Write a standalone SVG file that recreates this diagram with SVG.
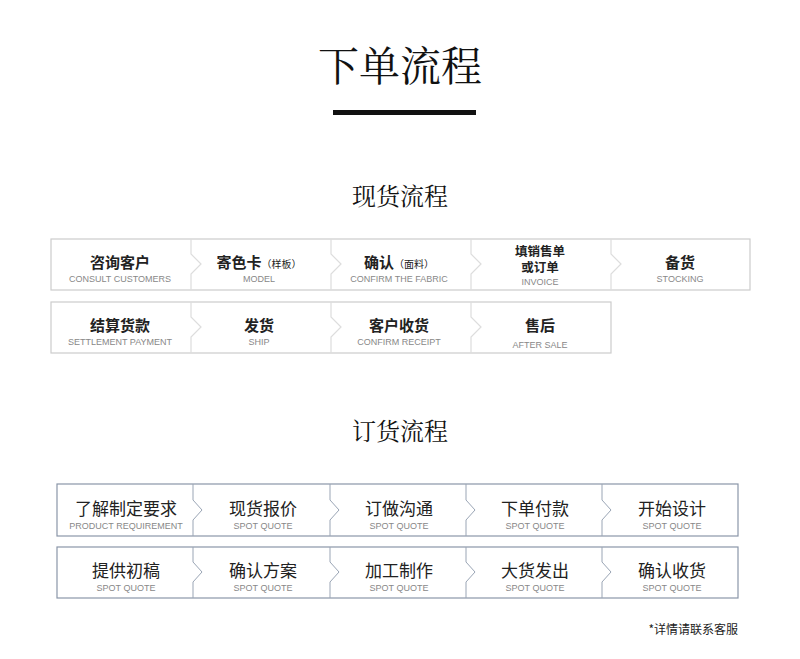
<svg xmlns="http://www.w3.org/2000/svg" width="800" height="659" viewBox="0 0 800 659">
<style>
.t{font-family:"Noto Sans CJK SC","Noto Sans",sans-serif;fill:#222;text-anchor:middle}
.h{font-family:"Noto Serif CJK SC","Noto Sans CJK SC",serif;fill:#111;text-anchor:middle}
.m{font-size:15px;font-weight:bold}
.s{font-family:"Liberation Sans",Arial,sans-serif;font-size:9px;fill:#888;text-anchor:middle}
.box{fill:#fff;stroke:#ccc;stroke-width:1.2}
.box2{fill:#fff;stroke:#8a96a8;stroke-width:1.2}
.dv{fill:none;stroke:#ddd;stroke-width:1.2}
.dv2{fill:none;stroke:#9aa5b5;stroke-width:1}
</style>
<rect width="800" height="659" fill="#fff"/>
<text class="h" x="400" y="81" font-size="41">下单流程</text>
<rect x="333" y="110" width="143" height="5" fill="#111"/>
<text class="h" x="400" y="205" font-size="24">现货流程</text>
<text class="h" x="400" y="440" font-size="24">订货流程</text>
<g id="stock-row1">
<rect class="box" x="51" y="239" width="699" height="51"/>
</g>
<g id="stock-row2">
<rect class="box" x="51" y="302" width="560" height="51"/>
</g>
<g id="order-row1"><rect class="box2" x="57" y="484" width="681" height="52"/></g>
<g id="order-row2"><rect class="box2" x="57" y="547" width="681" height="51"/></g>
<g id="connectors">
<path class="dv" d="M191 239V254L201 264L191 274V290M331 239V254L341 264L331 274V290M471 239V254L481 264L471 274V290M611 239V254L621 264L611 274V290"/>
<path class="dv" d="M191 302V317L201 327L191 337V353M331 302V317L341 327L331 337V353M471 302V317L481 327L471 337V353"/>
<path class="dv2" d="M193 484V500L202 510L193 520V536M330 484V500L339 510L330 520V536M466 484V500L475 510L466 520V536M602 484V500L611 510L602 520V536"/>
<path class="dv2" d="M193 547V562L202 572L193 582V598M330 547V562L339 572L330 582V598M466 547V562L475 572L466 582V598M602 547V562L611 572L602 582V598"/>
</g>
<g id="n1"><text class="t m" x="120" y="268">咨询客户</text><text class="s" x="120" y="282">CONSULT CUSTOMERS</text></g>
<g id="n2"><text class="t m" x="259" y="268">寄色卡<tspan font-size="10" font-weight="normal">（样板）</tspan></text><text class="s" x="259" y="282">MODEL</text></g>
<g id="n3"><text class="t m" x="399" y="268">确认<tspan font-size="10" font-weight="normal">（面料）</tspan></text><text class="s" x="399" y="282">CONFIRM THE FABRIC</text></g>
<g id="n4"><text class="t" x="540" y="256" font-size="12.5" font-weight="bold">填销售单</text><text class="t" x="540" y="272" font-size="12.5" font-weight="bold">或订单</text><text class="s" x="540" y="285">INVOICE</text></g>
<g id="n5"><text class="t m" x="680" y="268">备货</text><text class="s" x="680" y="282">STOCKING</text></g>
<g id="n6"><text class="t m" x="120" y="331">结算货款</text><text class="s" x="120" y="345">SETTLEMENT PAYMENT</text></g>
<g id="n7"><text class="t m" x="259" y="331">发货</text><text class="s" x="259" y="345">SHIP</text></g>
<g id="n8"><text class="t m" x="399" y="331">客户收货</text><text class="s" x="399" y="345">CONFIRM RECEIPT</text></g>
<g id="n9"><text class="t m" x="540" y="331">售后</text><text class="s" x="540" y="348">AFTER SALE</text></g>
<g id="o1"><text class="t" x="126" y="515" font-size="17">了解制定要求</text><text class="s" x="126" y="529" font-size="8.5">PRODUCT REQUIREMENT</text></g>
<g id="o2"><text class="t" x="263" y="515" font-size="17">现货报价</text><text class="s" x="263" y="529">SPOT QUOTE</text></g>
<g id="o3"><text class="t" x="399" y="515" font-size="17">订做沟通</text><text class="s" x="399" y="529">SPOT QUOTE</text></g>
<g id="o4"><text class="t" x="535" y="515" font-size="17">下单付款</text><text class="s" x="535" y="529">SPOT QUOTE</text></g>
<g id="o5"><text class="t" x="672" y="515" font-size="17">开始设计</text><text class="s" x="672" y="529">SPOT QUOTE</text></g>
<g id="o6"><text class="t" x="126" y="577" font-size="17">提供初稿</text><text class="s" x="126" y="591">SPOT QUOTE</text></g>
<g id="o7"><text class="t" x="263" y="577" font-size="17">确认方案</text><text class="s" x="263" y="591">SPOT QUOTE</text></g>
<g id="o8"><text class="t" x="399" y="577" font-size="17">加工制作</text><text class="s" x="399" y="591">SPOT QUOTE</text></g>
<g id="o9"><text class="t" x="535" y="577" font-size="17">大货发出</text><text class="s" x="535" y="591">SPOT QUOTE</text></g>
<g id="o10"><text class="t" x="672" y="577" font-size="17">确认收货</text><text class="s" x="672" y="591">SPOT QUOTE</text></g>
<text class="t" x="738" y="634" font-size="12" style="text-anchor:end">*详情请联系客服</text>
</svg>
